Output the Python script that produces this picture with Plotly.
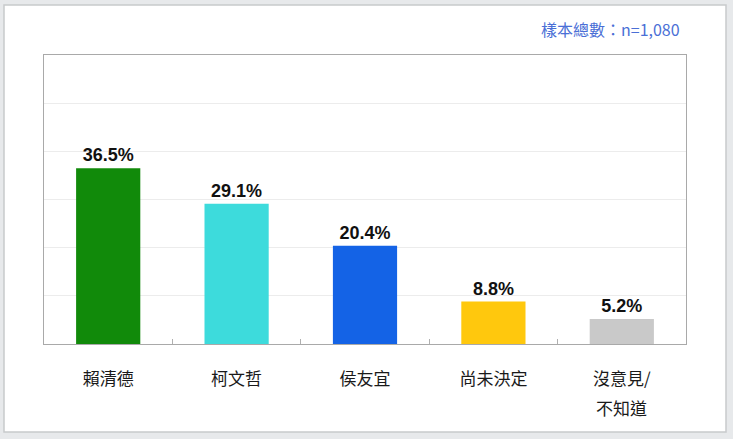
import plotly.graph_objects as go

# data
categories = ["賴清德", "柯文哲", "侯友宜", "尚未決定", "沒意見/"]
second_line = ["", "", "", "", "不知道"]
values = [36.5, 29.1, 20.4, 8.8, 5.2]
bar_colors = ["#118a0a", "#3ddbdc", "#1463e6", "#ffc80d", "#c9c9c9"]
value_labels = [f"<b>{v:.1f}%</b>" for v in values]
sample_note = "樣本總數：n=1,080"

fig = go.Figure(go.Bar(
    x=categories,
    y=values,
    marker=dict(color=bar_colors, line=dict(width=0)),
    width=0.5,
    text=value_labels,
    textposition="outside",
    textfont=dict(family="Liberation Sans, Arial", size=18, color="#111111"),
    cliponaxis=False,
))

# white card behind the chart
fig.add_shape(type="rect", xref="paper", yref="paper",
              x0=-0.0623, x1=1.0623, y0=-0.3045, y1=1.173,
              fillcolor="white", line=dict(color="#c8cacc", width=1.5),
              layer="below")

fig.add_annotation(text=sample_note, xref="paper", yref="paper",
                   x=0.993, y=1.09, xanchor="right", yanchor="middle",
                   showarrow=False,
                   font=dict(family="Noto Sans CJK TC", size=16, color="#4a6fd6"))

# second line of the last category label
for cat, extra in zip(categories, second_line):
    if extra:
        fig.add_annotation(text=extra, x=cat, xref="x", yref="paper",
                           y=-0.218, yanchor="middle", showarrow=False,
                           font=dict(family="Noto Sans CJK TC", size=17,
                                     color="#1a1a1a"))

fig.update_layout(
    width=733, height=439,
    margin=dict(l=44, r=47, t=55, b=95),
    paper_bgcolor="#e7e9eb",
    plot_bgcolor="white",
    showlegend=False,
    font=dict(family="Noto Sans CJK TC", size=17, color="#1a1a1a"),
)
fig.update_xaxes(
    showline=True, mirror=True, linecolor="#a9a9a9", linewidth=1,
    ticks="inside", tickson="boundaries", ticklen=5, tickcolor="#b0b0b0",
    tickfont=dict(family="Noto Sans CJK TC", size=17, color="#1a1a1a"),
    ticklabelstandoff=20,
)
fig.update_yaxes(
    range=[0, 60], dtick=10, showticklabels=False,
    showgrid=True, gridcolor="#ececec", gridwidth=1,
    showline=True, mirror=True, linecolor="#a9a9a9", linewidth=1,
    zeroline=False,
)

fig.write_html("out.html", config={"displayModeBar": False},
               post_script="document.body.style.margin='0';")
